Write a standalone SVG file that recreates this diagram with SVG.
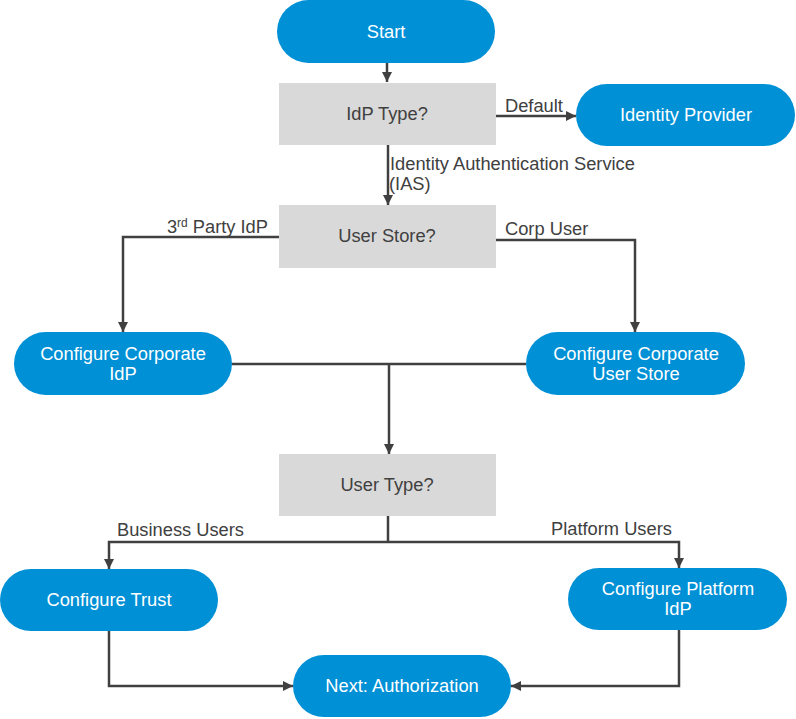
<svg xmlns="http://www.w3.org/2000/svg" width="796" height="719" viewBox="0 0 796 719">
<defs>
<style>
.term{fill:#0090D6;}
.dec{fill:#D9D9D9;}
.wt{fill:#FFFFFF;font-family:"Liberation Sans",Arial,sans-serif;font-size:18.3px;text-anchor:middle;}
.dt{fill:#404040;font-family:"Liberation Sans",Arial,sans-serif;font-size:18.3px;text-anchor:middle;}
.lbl{fill:#404040;font-family:"Liberation Sans",Arial,sans-serif;font-size:18.3px;}
.con{fill:none;stroke:#404040;stroke-width:2.5;}
</style>
<marker id="ah" viewBox="0 0 10 10" refX="10" refY="5" markerWidth="4" markerHeight="4" orient="auto" markerUnits="strokeWidth">
<path d="M0,0 L10,5 L0,10 z" fill="#404040"/>
</marker>
</defs>
<rect width="796" height="719" fill="#FFFFFF"/>
<g id="connectors">
<path class="con" d="M387,63 V82" marker-end="url(#ah)"/>
<path class="con" d="M496,116 H576" marker-end="url(#ah)"/>
<path class="con" d="M388,145 V205" marker-end="url(#ah)"/>
<path class="con" d="M279,237 H123 V332" marker-end="url(#ah)"/>
<path class="con" d="M496,240 H635 V332" marker-end="url(#ah)"/>
<path class="con" d="M232,364 H526"/>
<path class="con" d="M389,364 V454" marker-end="url(#ah)"/>
<path class="con" d="M388,516 V542"/>
<path class="con" d="M388,542 H109 V569" marker-end="url(#ah)"/>
<path class="con" d="M388,542 H679 V568" marker-end="url(#ah)"/>
<path class="con" d="M109,631 V686 H293" marker-end="url(#ah)"/>
<path class="con" d="M679,630 V686 H511" marker-end="url(#ah)"/>
<text class="lbl" x="505" y="112">Default</text>
<text class="lbl" x="390" y="170">Identity Authentication Service</text>
<text class="lbl" x="389" y="190">(IAS)</text>
<text class="lbl" x="268" y="233" text-anchor="end">3<tspan font-size="12" dy="-6">rd</tspan><tspan dy="6"> Party IdP</tspan></text>
<text class="lbl" x="505" y="235">Corp User</text>
<text class="lbl" x="117" y="536">Business Users</text>
<text class="lbl" x="551" y="535">Platform Users</text>
</g>
<g id="start">
<rect class="term" x="277" y="0" width="218" height="63" rx="31.5"/>
<text class="wt" x="386" y="38">Start</text>
</g>
<g id="idp-type">
<rect class="dec" x="279" y="83" width="217" height="62"/>
<text class="dt" x="387" y="120">IdP Type?</text>
</g>
<g id="identity-provider">
<rect class="term" x="576" y="84" width="219" height="62" rx="31"/>
<text class="wt" x="686" y="121">Identity Provider</text>
</g>
<g id="user-store">
<rect class="dec" x="279" y="205" width="217" height="63"/>
<text class="dt" x="387" y="242">User Store?</text>
</g>
<g id="corp-idp">
<rect class="term" x="14" y="332" width="218" height="63" rx="31.5"/>
<text class="wt" x="123" y="360">Configure Corporate</text>
<text class="wt" x="123" y="380">IdP</text>
</g>
<g id="corp-user-store">
<rect class="term" x="526" y="332" width="219" height="63" rx="31.5"/>
<text class="wt" x="636" y="360">Configure Corporate</text>
<text class="wt" x="636" y="380">User Store</text>
</g>
<g id="user-type">
<rect class="dec" x="279" y="454" width="217" height="62"/>
<text class="dt" x="387" y="491">User Type?</text>
</g>
<g id="configure-trust">
<rect class="term" x="0" y="569" width="218" height="62" rx="31"/>
<text class="wt" x="109" y="606">Configure Trust</text>
</g>
<g id="platform-idp">
<rect class="term" x="568" y="568" width="219" height="62" rx="31"/>
<text class="wt" x="678" y="595">Configure Platform</text>
<text class="wt" x="678" y="615">IdP</text>
</g>
<g id="next-auth">
<rect class="term" x="293" y="655" width="218" height="62" rx="31"/>
<text class="wt" x="402" y="692">Next: Authorization</text>
</g>
</svg>
